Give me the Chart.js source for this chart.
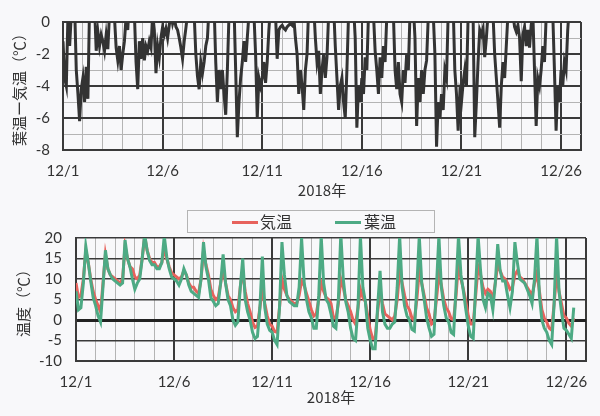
<!DOCTYPE html>
<html>
<head>
<meta charset="utf-8">
<script src="https://cdn.jsdelivr.net/npm/chart.js@4.4.1/dist/chart.umd.min.js"></script>
<style>
  body { margin: 0; background: #f8f8fa; }
  #wrap { position: relative; width: 600px; height: 416px; overflow: hidden; }
  canvas { position: absolute; left: 0; }
  #diffChart { top: 0; }
  #tempChart { top: 200px; }
  #legend { position: absolute; left: 187px; top: 210px; width: 248px; height: 23px; box-sizing: border-box;
    border: 1px solid #b4b4b4; font: 16px 'Noto Sans CJK JP'; color: #333; }
  .item { position: absolute; top: 0; line-height: 21px; }
  .swatch { position: absolute; top: 10px; width: 26px; height: 3px; }
</style>
</head>
<body>
<div id="wrap">
  <canvas id="diffChart" width="600" height="200"></canvas>
  <canvas id="tempChart" width="600" height="216"></canvas>
  <div id="legend">
    <span class="swatch" style="left:44px;background:#e7625c"></span><span class="item" style="left:72px">気温</span>
    <span class="swatch" style="left:147px;background:#4daa84"></span><span class="item" style="left:176px">葉温</span>
  </div>
</div>
<script>
'use strict';

// x labels every 5 days, axis in days from 12/1 0:00
let dayLabels = ['12/1', '12/6', '12/11', '12/16', '12/21', '12/26'];

// leaf - air temperature, every 2 hours from 12/1 0:00
let diffValues = [
  -1.2, -3.5, -4, 0.5, -1.5, 0.5, 2, 1, -3, -4.5, -6.2, -4.2,
  -3.5, -5, -2.8, -4.8, 1, 2, 2, 1, -1.8, -0.6, -1.5, -0.8,
  -1.2, -1.8, -0.8, -1.7, 0.5, 2, 2, 0.3, -1.6, -2.4, -1.5, -3,
  -2, -1.2, 0.3, -0.5, 1.5, 2, 2, 0.5, -2.5, -4.2, -1.2, -2.3,
  -1, -2.4, -1.5, -1.8, -1.2, -1.6, 0.5, -0.5, -3.2, -1.5, -2.2, -1,
  -0.3, -0.8, -0.4, -1, -0.2, 0.5, -0.1, 0.3, -0.3, -0.5, -1, -1.6,
  -2.3, -1.2, -0.4, 0.5, 2, 2, 2, 0.5, -2, -3.4, -4.2, -2.5,
  -3.2, -2.5, -1.5, -1, 1, 2, 2, 1, -2.5, -5, -3, -4.2,
  -3, -4.5, -5.8, -3, 0.5, 1, 2, 1, -3, -7.2, -5, -3.5,
  -2.5, -1.2, -2.5, -1, 0.5, 2, 2, 0.5, -2, -6, -3.5, -4,
  -3.5, -2.5, -3.8, -2.5, -0.5, 1, 2, 2, 0.5, -2.3, -0.5, -0.3,
  -0.2, -0.4, -0.5, -0.3, -0.2, -0.1, -0.2, 0.3, -1, -2, -4.5, -3,
  -4, -5.5, -3, -2, 1, 2, 2, 1, -1, -2.5, -1.8, -4.5,
  -3, -2, -3.5, -2.2, 0.5, 2, 2, 1, -1.5, -3.5, -5.5, -4,
  -3.5, -5, -6, -3, 0.5, 2, 2, 1, -1, -6.6, -4, -5,
  -3.5, -4.5, -2.2, -3, 0.5, 2, 1, 0.5, -1.8, -3, -4.5, -2.2,
  -3.5, -1.5, -2.5, 0.3, 2, 2, 2, 0.5, -3, -4.2, -2.5, -4.5,
  -5, -3, -3.8, -2, -3, 0.5, 2, 1, -1, -6.5, -3.5, -5,
  -3, -4.5, -3, -2.4, 0.3, 2, 2, 0.5, -2, -7.8, -5, -6,
  -4.5, -5.5, -3, -3.5, 0.5, 2, 2, 1, -3, -4.5, -6.8, -4.5,
  -5, -3.8, -3, -4, 0.3, 2, 2, 0.5, -7.2, -5, -2.5, -0.5,
  -0.8, -0.4, -2.2, -1, 0.5, 2, 2, 0.5, -2, -3.5, -5, -6.6,
  -4, -2.5, -3.5, -1.5, 0.5, 2, 2, 0.5, -0.3, -0.6, -0.2, -1,
  -3.7, -0.8, -0.3, -1.5, -0.5, -1.6, -0.2, 0.5, -3, -6.5, -3.5, -4,
  -3, -1.5, -2.5, 0.3, 2, 2, 1, 0.5, -3, -6.8, -4, -5,
  -3, -4, -2.5, -3, -0.5, 1
];

// air temperature, every 3 hours from 12/1 0:00
let airTemp = [
  9, 5.5, 6, 10, 17, 14, 10, 7,
  5, 3.5, 2, 9, 16, 12.5, 11, 10.5,
  10, 9.5, 9, 10, 18, 15, 13, 12.5,
  10.5, 10, 11, 15, 20.5, 17, 15, 14,
  14, 13, 13, 14, 17.5, 15, 13, 11.5,
  11, 10.5, 10, 10.5, 12, 11, 9, 8,
  8, 7, 6.5, 10, 17, 13.5, 11, 7.5,
  6, 5, 5.5, 9, 12.5, 9, 6, 5,
  3, 2, 2.5, 8, 12, 7, 4, 2,
  -0.5, -1.8, -1.5, 3, 7.5, 4, 1, -1,
  -1.5, -2.8, -3, 3, 10, 7.5, 6, 5,
  4.5, 4, 4, 6, 9.5, 8.5, 6.5, 4.5,
  2.5, 1, 1.5, 5, 9, 7, 5.5, 5,
  4, 0.5, 0.5, 4, 10, 8, 5, 3.5,
  2, 0, -1, 3, 7.5, 5.5, 4.5, 1,
  -2.5, -4.5, -4.5, 2, 7, 4, 1.5, 1,
  0.5, 0, 1, 5, 12, 9, 6, 3.5,
  2.5, 0.5, -0.2, 5, 12, 9, 6, 3,
  1.5, -1, -0.5, 5, 11, 8.5, 5, 3,
  2, 0.3, 0, 6, 14, 10, 7.5, 4.5,
  1, -1, -1, 6, 13, 11, 8, 6.5,
  7.5, 7, 5, 9, 13.5, 12, 10.5, 10,
  9, 7.5, 8, 11, 12, 10.5, 10, 9,
  8, 7, 6, 9, 11.5, 7, 2.5, 0.5,
  -0.5, -2, -2.5, 4, 11, 7, 4, 1,
  0.5, -0.8, -1.5, 0.5
];

// leaf temperature, every 3 hours from 12/1 0:00
let leafTemp = [
  7, 2.5, 3, 9, 18, 14, 9.5, 5.5,
  3.5, 1, -0.5, 8, 17, 12.5, 11, 10,
  9.5, 9, 8.5, 9, 19.5, 15, 13, 10,
  7.5, 9, 10, 15, 21, 17, 14.5, 13.5,
  13.5, 12.5, 12.5, 14, 20.5, 15.5, 12.5, 10.5,
  10, 9.5, 8.5, 10, 12.5, 11, 8.5, 7,
  6.5, 6, 5.5, 10, 19, 13, 10, 5.5,
  4.5, 3.5, 4, 9, 16, 9, 5, 3.5,
  0, -1.3, -0.5, 8, 15, 5, 2, 0,
  -3, -4.5, -4, 3, 15.5, 3, -1, -2.5,
  -3, -5, -6, 3, 19, 11, 6, 4.5,
  4, 3.5, 3.5, 8, 20, 9.5, 5, 2,
  0.5, -2, -2, 6, 20.5, 9, 5, 4,
  1.5, -1.5, -2, 5, 21, 10, 4.5, 2,
  -2, -4.5, -5, 3, 20.5, 8, 4.5, -2,
  -5, -7, -7, 3, 12, 2, -1, -2,
  -2, -1, -0.5, 8, 20.5, 8, 3.5, 1,
  0, -2.3, -2.7, 8, 20.5, 9, 5, 0.5,
  -2, -4, -3.5, 8, 20.5, 8, 3.5, 0.5,
  -0.5, -3, -3.5, 8, 20.5, 11, 7, 2.5,
  -1.5, -4, -4.5, 8, 20.5, 12, 5, 3,
  6.5, 6, 2.5, 9, 18.5, 12, 9.5, 9.5,
  6, 3, 7, 19, 14, 10, 9.5, 9,
  7.5, 6, 4, 10, 20.5, 6, 0, -2,
  -3, -5, -6, 4, 20.5, 7, 2, -2,
  -2.5, -3.5, -4.5, 3
];

let darkGrid = '#3a3a3a';
let lightGrid = '#b4b4b4';
let tickFont = { family: 'Lato', size: 15 };
let titleFont = { family: 'Noto Sans CJK JP', size: 15 };

function toPoints(values, stepHours) {
  return values.map((v, i) => ({ x: i * stepHours / 24, y: v }));
}

function dayGridColor(c) {
  return (c.tick.value % 5 === 0 || c.tick.value === 26) ? darkGrid : lightGrid;
}
function dayGridWidth(c) {
  return (c.tick.value % 5 === 0 || c.tick.value === 26) ? 2 : 1;
}

function xAxis(height, titleBottom) {
  return {
    type: 'linear',
    min: 0,
    max: 26,
    afterFit: (s) => { s.height = height; },
    ticks: {
      stepSize: 1,
      autoSkip: false,
      maxRotation: 0,
      padding: 12,
      font: tickFont,
      color: '#333',
      callback: (v) => (v % 5 === 0 ? dayLabels[v / 5] : '')
    },
    grid: { drawTicks: false, color: dayGridColor, lineWidth: dayGridWidth },
    border: { color: darkGrid, width: 2 },
    title: { display: true, text: '2018年', font: titleFont, color: '#333', padding: { top: 0, bottom: titleBottom } }
  };
}

new Chart(document.getElementById('diffChart'), {
  type: 'line',
  data: {
    datasets: [{
      label: '葉温ー気温',
      data: toPoints(diffValues, 2),
      borderColor: '#333333',
      borderWidth: 3,
      pointRadius: 0,
      tension: 0
    }]
  },
  options: {
    responsive: false,
    animation: false,
    devicePixelRatio: 1,
    layout: { padding: { top: 22, right: 19, left: 0, bottom: 0 } },
    plugins: { legend: { display: false }, tooltip: { enabled: false } },
    scales: {
      x: xAxis(50, 1),
      y: {
        min: -8,
        max: 0,
        afterFit: (s) => { s.width = 63; },
        ticks: {
          stepSize: 1,
          autoSkip: false,
          padding: 13,
          font: tickFont,
          color: '#333',
          callback: (v) => (v % 2 === 0 ? String(v) : '')
        },
        grid: {
          drawTicks: false,
          color: (c) => (c.tick.value % 2 === 0 ? darkGrid : lightGrid),
          lineWidth: (c) => (c.tick.value % 2 === 0 ? 2 : 1)
        },
        border: { color: darkGrid, width: 2 },
        title: { display: true, text: '葉温ー気温（℃）', font: titleFont, color: '#333', padding: { top: 10, bottom: 0 } }
      }
    }
  }
});

new Chart(document.getElementById('tempChart'), {
  type: 'line',
  data: {
    datasets: [
      {
        label: '気温',
        data: toPoints(airTemp, 3),
        borderColor: '#e7625c',
        borderWidth: 3,
        pointRadius: 0,
        tension: 0,
        order: 1
      },
      {
        label: '葉温',
        data: toPoints(leafTemp, 3),
        borderColor: '#4daa84',
        borderWidth: 3,
        pointRadius: 0,
        tension: 0,
        order: 0
      }
    ]
  },
  options: {
    responsive: false,
    animation: false,
    devicePixelRatio: 1,
    layout: { padding: { top: 38, right: 14, left: 0, bottom: 0 } },
    plugins: { legend: { display: false }, tooltip: { enabled: false } },
    scales: {
      x: xAxis(55, 10),
      y: {
        min: -10,
        max: 20,
        afterFit: (s) => { s.width = 76; },
        ticks: { stepSize: 5, autoSkip: false, padding: 14, font: tickFont, color: '#333', callback: (v) => String(v) },
        grid: {
          drawTicks: false,
          color: (c) => (c.tick.value === 0 ? '#222' : darkGrid),
          lineWidth: (c) => (c.tick.value === 0 ? 3 : 1.5)
        },
        border: { color: darkGrid, width: 2 },
        title: { display: true, text: '温度（℃）', font: titleFont, color: '#333', padding: { top: 14, bottom: 0 } }
      }
    }
  }
});
</script>
</body>
</html>
